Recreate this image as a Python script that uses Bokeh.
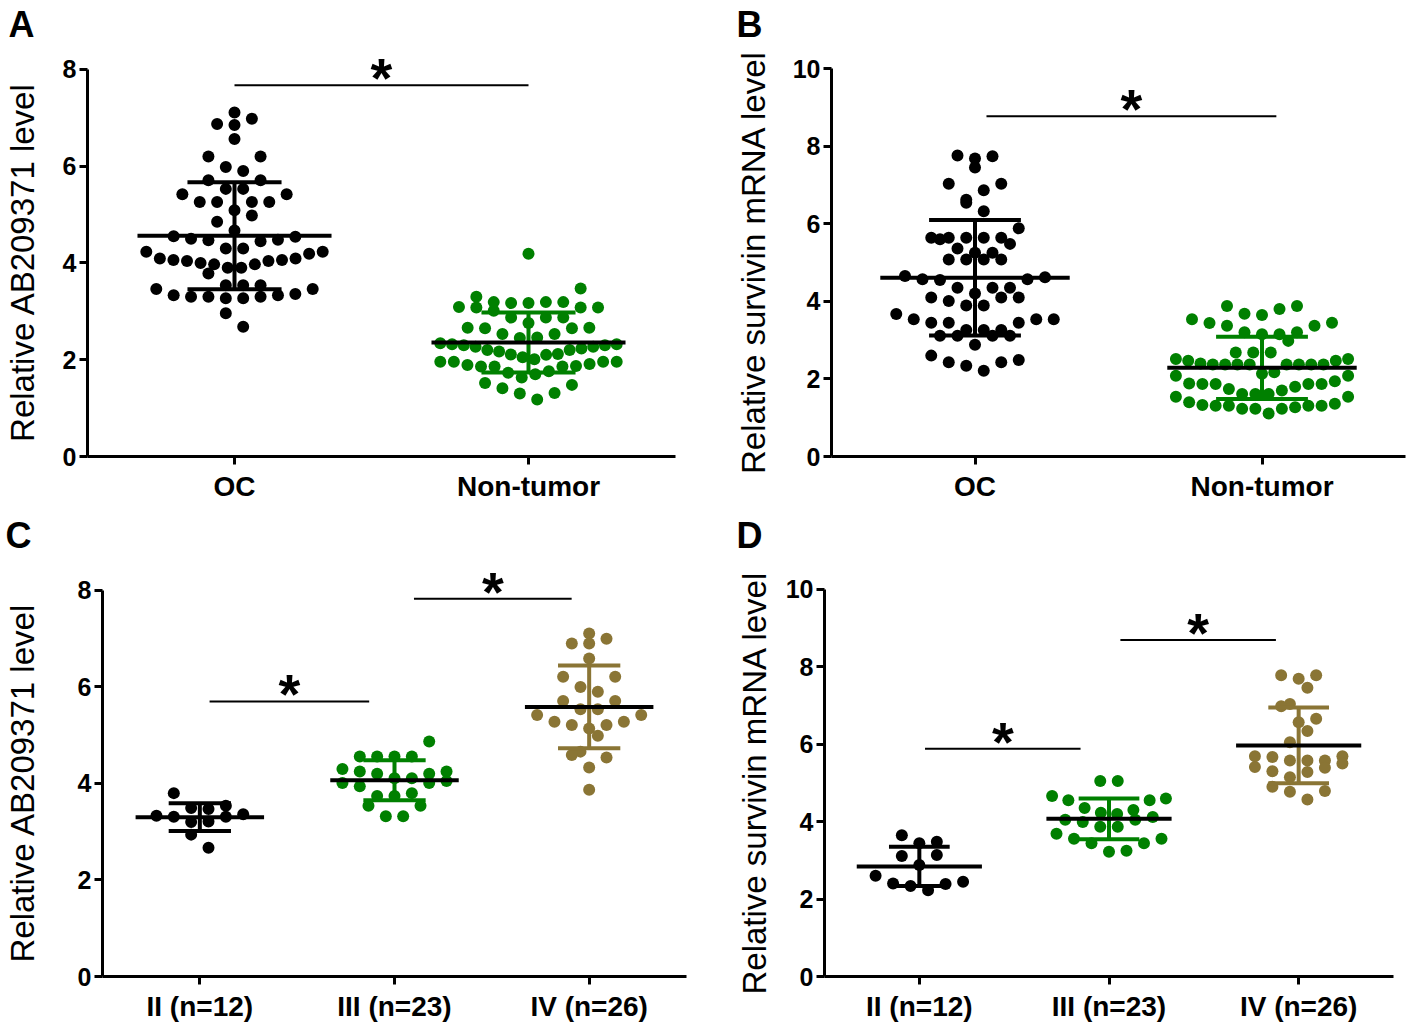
import numpy as np
from bokeh.plotting import figure
from bokeh.models import Range1d, FixedTicker
from bokeh.layouts import row, column
from bokeh.embed import file_html
from bokeh.resources import INLINE
from bokeh.core.properties import value

# ---------------- data ----------------
A_GROUPS = ["OC", "Non-tumor"]
A_OC = [7.11, 6.98, 6.87, 6.85, 6.56, 6.20, 6.20, 5.98, 5.90, 5.71, 5.71, 5.53, 5.53, 5.42, 5.42,
        5.26, 5.26, 5.26, 5.26, 5.09, 4.98, 4.85, 4.67, 4.55, 4.54, 4.48, 4.45, 4.47, 4.50, 4.30,
        4.30, 4.23, 4.23, 4.19, 4.00, 3.78, 4.09, 4.09, 4.06, 4.06, 4.04, 4.04, 3.97, 3.97, 3.90,
        3.90, 3.54, 3.54, 3.54, 3.46, 3.46, 3.36, 3.33, 3.33, 3.30, 3.30, 3.30, 3.27, 3.27, 2.96, 2.68]
A_NT = [4.19, 3.47, 3.17, 3.17, 3.30, 3.19, 3.19, 3.19, 3.08, 3.08, 3.08, 3.09, 3.01, 2.87, 2.87,
        2.87, 2.66, 2.66, 2.65, 2.65, 2.76, 2.53, 2.53, 2.46, 2.45, 2.32, 2.32, 2.27, 2.20, 2.17,
        2.20, 2.23, 2.27, 2.30, 2.30, 2.34, 2.10, 2.12, 2.01, 2.11, 2.05, 1.96, 1.96, 1.91, 1.86,
        1.86, 1.76, 1.70, 1.63, 1.73, 1.86, 1.89, 1.87, 1.96, 1.96, 1.48, 1.52, 1.41, 1.31, 1.30, 1.18]

B_GROUPS = ["OC", "Non-tumor"]
B_OC = [7.74, 7.68, 7.76, 7.45, 7.03, 7.03, 6.86, 6.54, 6.62, 6.32, 5.88, 5.48, 5.64, 5.64, 5.64,
        5.64, 5.64, 5.60, 5.25, 5.25, 5.36, 5.08, 5.08, 5.08, 5.08, 4.65, 4.57, 4.55, 4.57, 4.62,
        4.35, 4.35, 4.35, 4.10, 4.10, 4.01, 4.10, 4.20, 3.89, 3.89, 3.67, 3.54, 3.45, 3.45, 3.45,
        3.54, 3.54, 3.26, 3.26, 3.26, 3.11, 3.11, 3.11, 3.11, 2.88, 2.49, 2.43, 2.21, 2.34, 2.43, 2.60]
B_NT = [3.88, 3.88, 3.80, 3.68, 3.65, 3.54, 3.45, 3.44, 3.37, 3.37, 3.20, 3.15, 3.15, 3.20, 2.98,
        2.68, 2.68, 2.68, 2.51, 2.47, 2.40, 2.37, 2.37, 2.37, 2.37, 2.37, 2.37, 2.37, 2.37, 2.47,
        2.51, 2.08, 2.08, 2.13, 2.17, 1.94, 1.87, 1.87, 1.80, 1.87, 1.87, 1.88, 1.70, 1.74, 1.61,
        1.61, 1.61, 1.54, 1.40, 1.31, 1.31, 1.27, 1.23, 1.11, 1.23, 1.23, 1.31, 1.31, 1.33, 1.36, 1.54]

STAGE_GROUPS = ["II (n=12)", "III (n=23)", "IV (n=26)"]
C_II = [3.80, 3.49, 3.54, 3.47, 3.33, 3.31, 3.31, 3.20, 3.21, 3.36, 2.94, 2.67]
C_III = [4.87, 4.56, 4.56, 4.56, 4.56, 4.30, 4.25, 4.25, 4.20, 4.20, 4.11, 4.11, 4.01, 4.01,
         3.94, 3.80, 3.74, 3.74, 3.54, 3.54, 3.32, 3.32, 4.05]
C_IV = [7.11, 6.90, 7.00, 6.90, 6.59, 6.21, 6.21, 5.90, 6.00, 5.71, 5.71, 5.54, 5.54, 5.42, 5.42,
        5.28, 5.28, 5.21, 5.21, 5.14, 4.99, 4.66, 4.59, 4.54, 4.33, 3.87]
D_II = [3.65, 3.48, 3.44, 3.14, 3.11, 2.88, 2.45, 2.60, 2.39, 2.34, 2.40, 2.23]
D_III = [5.05, 5.05, 4.66, 4.60, 4.55, 4.55, 4.20, 4.35, 4.30, 4.23, 4.12, 4.05, 4.05, 3.99,
         3.87, 3.87, 3.69, 3.56, 3.56, 3.44, 3.44, 3.25, 3.22]
D_IV = [7.78, 7.78, 7.69, 7.46, 7.04, 6.98, 6.57, 6.66, 6.34, 6.05, 5.69, 5.69, 5.67, 5.58, 5.58,
        5.58, 5.39, 5.28, 5.30, 5.15, 4.79, 4.77, 4.90, 4.57, 5.41, 5.50]

Y_TITLE_AB209371 = "Relative AB209371 level"
Y_TITLE_SURVIVIN = "Relative survivin mRNA level"

# significance brackets: (x start, x end, height)
A_SIG = [(0.0, 1.0, 7.67)]
B_SIG = [(0.04, 1.05, 8.77)]
C_SIG = [(0.05, 0.87, 5.70), (1.10, 1.91, 7.83)]
D_SIG = [(0.03, 0.85, 5.88), (1.06, 1.88, 8.69)]

BLACK = "#000000"
GREEN = "#008000"
OLIVE = "#8A7535"
FONT = "Liberation Sans"
NBSP = "\u00a0"


def bin_offsets(vals, ppx, ppy, bin_px=19.0, step_px=17.5, max_half=0.30):
    """GraphPad-like scatter: bin by value, spread each bin horizontally."""
    v = np.asarray(vals, dtype=float)
    ypx = v * ppy
    b = np.floor((ypx - ypx.min()) / bin_px + 1e-9).astype(int)
    offs = np.zeros(len(v))
    flip = 1
    for bid in np.unique(b):
        idx = np.where(b == bid)[0]
        idx = idx[np.argsort(v[idx], kind="stable")]
        n = len(idx)
        if n == 1:
            continue
        sp = min(step_px, 2 * max_half * ppx / (n - 1))
        slots = [(k - (n - 1) / 2) * sp for k in range(n)]
        slots.sort(key=lambda s: (round(abs(s), 6), -flip * s))
        for j, i in enumerate(idx):
            offs[i] = slots[j]
        flip = -flip
    return offs / ppx


def make_panel(letter, letter_offset, letter_standoff, groups, data, colors, ytitle, ytitle_pad,
               ymax, ytop, sig, W, H, left, right, top, bottom, label_standoff):
    n = len(groups)
    fw = W - left - right
    fh = H - top - bottom
    ppx = fw / n
    ppy = fh / ytop
    p = figure(width=W, height=H, x_range=Range1d(-0.5, n - 0.5), y_range=Range1d(0, ytop),
               output_backend="svg", toolbar_location=None,
               min_border_left=left, min_border_right=right,
               min_border_top=top, min_border_bottom=bottom)
    p.outline_line_color = None
    p.grid.visible = False
    p.background_fill_color = "white"
    p.border_fill_color = "white"

    p.xaxis.ticker = FixedTicker(ticks=list(range(n)))
    p.xaxis.major_label_overrides = {i: g for i, g in enumerate(groups)}
    p.yaxis.ticker = FixedTicker(ticks=list(range(0, ymax + 1, 2)))
    p.yaxis.bounds = (0, ymax)
    for ax in (p.xaxis, p.yaxis):
        ax.axis_line_width = 3
        ax.axis_line_color = BLACK
        ax.major_tick_line_width = 3
        ax.major_tick_line_color = BLACK
        ax.major_tick_in = 0
        ax.major_tick_out = 8
        ax.minor_tick_line_color = None
        ax.major_label_text_font = FONT
        ax.major_label_text_font_style = "bold"
        ax.major_label_text_color = BLACK
    p.xaxis.major_label_text_font_size = "28px"
    p.xaxis.major_label_standoff = 6
    p.yaxis.major_label_text_font_size = "25px"
    p.yaxis.major_label_standoff = 3
    # trailing no-break spaces nudge the centred title down along the axis
    p.yaxis.axis_label = ytitle + NBSP * ytitle_pad
    p.yaxis.axis_label_text_font = FONT
    p.yaxis.axis_label_text_font_style = "normal"
    p.yaxis.axis_label_text_font_size = "33px"
    p.yaxis.axis_label_text_color = BLACK
    p.yaxis.axis_label_standoff = label_standoff

    # panel letter
    p.title.text = letter
    p.title.text_font = FONT
    p.title.text_font_style = "bold"
    p.title.text_font_size = "36px"
    p.title.text_color = BLACK
    p.title.align = "left"
    p.title.vertical_align = "top"
    p.title.offset = letter_offset
    p.title.standoff = letter_standoff

    for gi, (vals, col) in enumerate(zip(data, colors)):
        offs = bin_offsets(vals, ppx, ppy)
        p.scatter(x=gi + offs, y=vals, size=12, fill_color=col, line_color=None)

    for gi, (vals, col) in enumerate(zip(data, colors)):
        v = np.asarray(vals, dtype=float)
        m = v.mean()
        sd = v.std(ddof=1)
        p.segment(x0=[gi, gi - 0.16, gi - 0.16], x1=[gi, gi + 0.16, gi + 0.16],
                  y0=[m - sd, m + sd, m - sd], y1=[m + sd, m + sd, m - sd],
                  line_width=4, line_color=col, line_cap="butt")
        p.segment(x0=[gi - 0.33], x1=[gi + 0.33], y0=[m], y1=[m],
                  line_width=4, line_color=BLACK, line_cap="butt")

    for (x0, x1, h) in sig:
        p.segment(x0=[x0], x1=[x1], y0=[h], y1=[h], line_width=2, line_color=BLACK)
        p.text(x=[(x0 + x1) / 2], y=[h + 7.5 / ppy], text=["*"], text_font=value(FONT),
               text_font_style="bold", text_font_size="56px", text_align="center",
               text_baseline="alphabetic", text_color=BLACK)
    return p


pA = make_panel("A", -79, 6, A_GROUPS, [A_OC, A_NT], [BLACK, GREEN], Y_TITLE_AB209371, 2,
                8, 8.41, A_SIG, W=720, H=510, left=83, right=45, top=48, bottom=54,
                label_standoff=19)
pB = make_panel("B", -95, 6, B_GROUPS, [B_OC, B_NT], [BLACK, GREEN], Y_TITLE_SURVIVIN, 2,
                10, 10.49, B_SIG, W=696, H=510, left=111, right=11, top=48, bottom=54,
                label_standoff=18)
pC = make_panel("C", -97, 8, STAGE_GROUPS, [C_II, C_III, C_IV], [BLACK, GREEN, OLIVE],
                Y_TITLE_AB209371, 3, 8, 8.6, C_SIG, W=720, H=518, left=97, right=34,
                top=50, bottom=52, label_standoff=34)
pD = make_panel("D", -88, 8, STAGE_GROUPS, [D_II, D_III, D_IV], [BLACK, GREEN, OLIVE],
                Y_TITLE_SURVIVIN, 3, 10, 10.72, D_SIG, W=696, H=518, left=104, right=23,
                top=50, bottom=52, label_standoff=10)

layout = column(row(pA, pB), row(pC, pD))
open("out.html", "w").write(file_html(layout, INLINE))
